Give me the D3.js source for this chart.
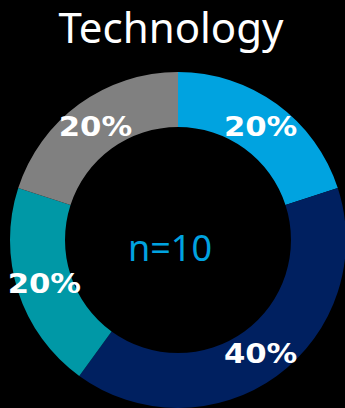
<!DOCTYPE html>
<html>
<head>
<meta charset="utf-8">
<script src="https://cdn.jsdelivr.net/npm/d3@7"></script>
<style>
  html, body { margin: 0; padding: 0; background: #000; }
  svg { display: block; }
</style>
</head>
<body>
<svg id="chart" width="345" height="408"></svg>
<script>
// Survey answers for the Technology group (n = 10)
const categories = ["Group A", "Group B", "Group C", "Group D"];
const counts = [2, 4, 2, 2];
const colors = ["#00A3E0", "#002060", "#0098A6", "#808080"];
const title = "Technology";
const total = d3.sum(counts);

const width = 345, height = 408;
const cx = 178, cy = 240;
const outerR = 168, innerR = 113;

const svg = d3.select("#chart");
svg.append("rect").attr("width", width).attr("height", height).attr("fill", "#000");

svg.append("text")
  .attr("x", 171).attr("y", 43)
  .attr("text-anchor", "middle")
  .attr("font-family", "'Noto Sans', 'Open Sans', sans-serif")
  .attr("font-size", 42)
  .attr("fill", "#fff")
  .text(title);

const pie = d3.pie().sort(null).value(d => d.value);
const arc = d3.arc().innerRadius(innerR).outerRadius(outerR);
const data = pie(categories.map((c, i) => ({ name: c, value: counts[i], color: colors[i] })));

const g = svg.append("g").attr("transform", `translate(${cx},${cy})`);

g.selectAll("path.slice")
  .data(data)
  .join("path")
  .attr("class", "slice")
  .attr("d", arc)
  .attr("fill", d => d.data.color);

const pct = d3.format(".0%");
g.selectAll("text.label")
  .data(data)
  .join("text")
  .attr("class", "label")
  .attr("transform", d => {
    const [x, y] = arc.centroid(d);
    return `translate(${x},${y}) scale(1.18,1)`;
  })
  .attr("text-anchor", "middle")
  .attr("dy", "0.36em")
  .attr("font-family", "'DejaVu Sans', Verdana, sans-serif")
  .attr("font-weight", "bold")
  .attr("font-size", 26)
  .attr("fill", "#fff")
  .text(d => pct(d.data.value / total));

svg.append("text")
  .attr("x", 170).attr("y", 261)
  .attr("text-anchor", "middle")
  .attr("font-family", "'Noto Sans', 'Open Sans', sans-serif")
  .attr("font-size", 36)
  .attr("fill", "#00A3E0")
  .text("n=" + total);
</script>
</body>
</html>
